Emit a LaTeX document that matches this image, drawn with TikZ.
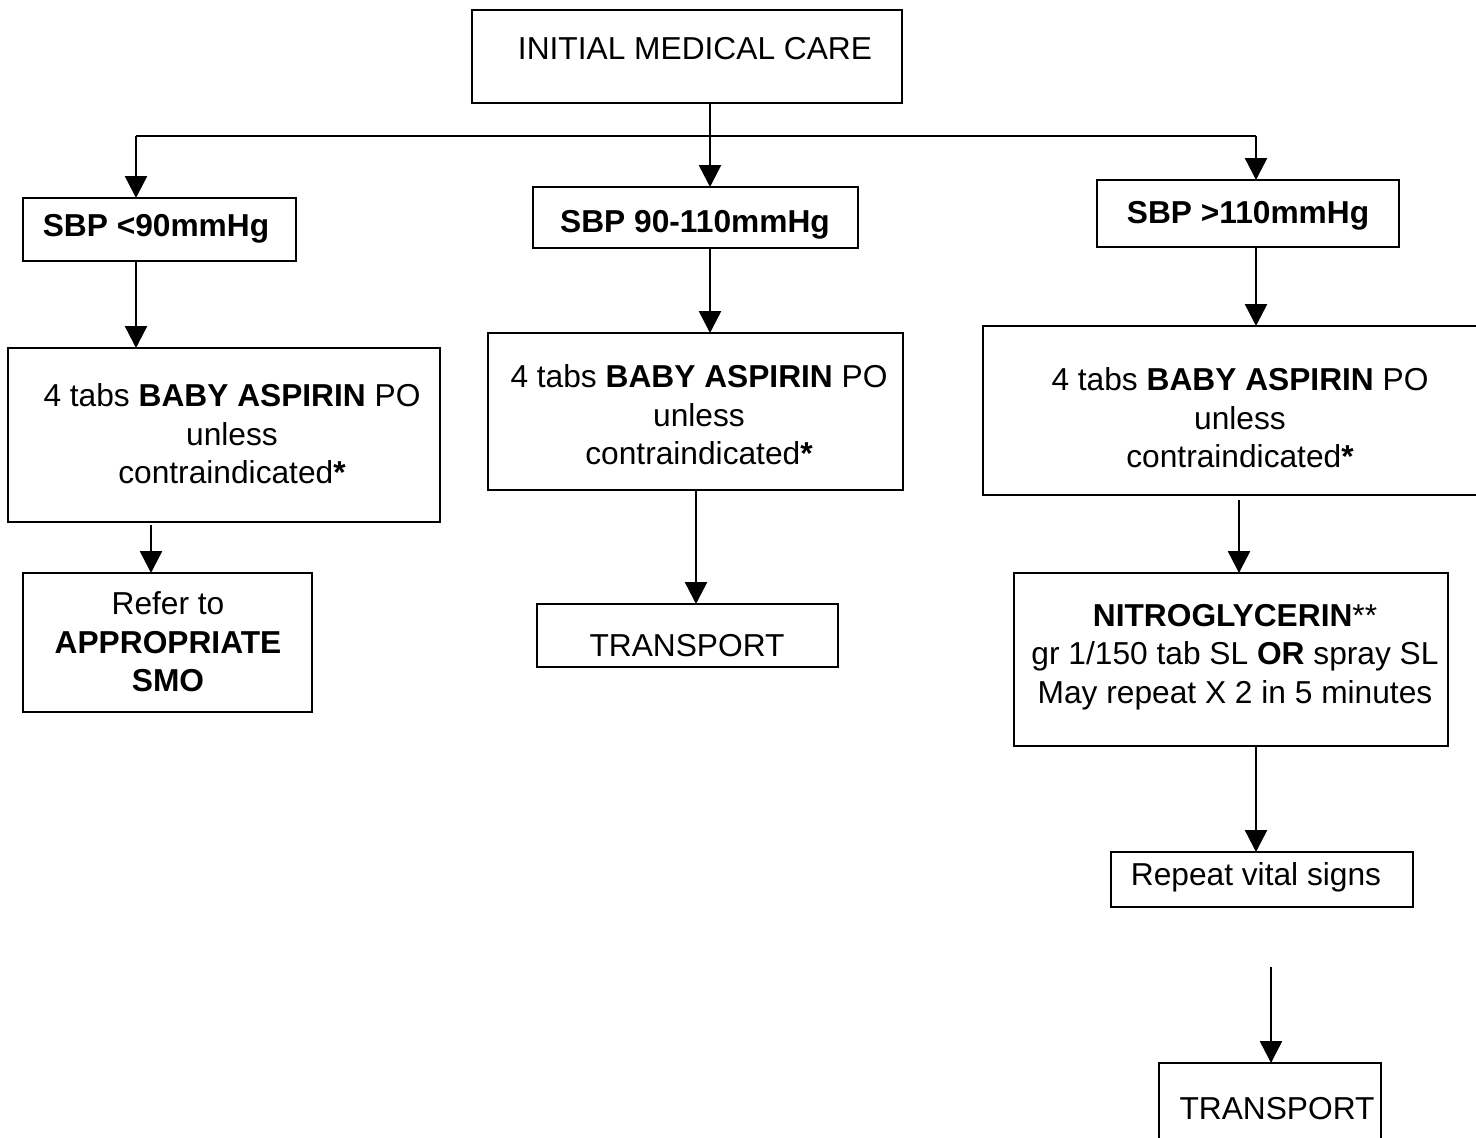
\documentclass[tikz,border=0pt]{standalone}
\usepackage{fontspec}
\setmainfont{Liberation Sans}
\usetikzlibrary{arrows.meta}
\newcommand\flowfont{\fontsize{31.7}{38.5}\selectfont}
\begin{document}
\begin{tikzpicture}[x=1pt,y=-1pt,
  stepbox/.style={draw, line width=2.5pt, rectangle, inner sep=0pt, outer sep=0pt, anchor=north west},
  label/.style={align=center, inner sep=0pt, font=\flowfont},
  link/.style={line width=2.5pt, -{Triangle[length=22pt,width=22pt]}},
  plain/.style={line width=2.5pt}]
\useasboundingbox (0,0) rectangle (1476,1138);
\clip (0,0) rectangle (1476,1138);

% boxes: top-left corner, width x height
\node[stepbox, minimum width=430pt, minimum height=93pt]  (init) at (472,10)   {};
\node[stepbox, minimum width=273pt, minimum height=63pt]  (s1)   at (23,198)   {};
\node[stepbox, minimum width=325pt, minimum height=61pt]  (s2)   at (533,187)  {};
\node[stepbox, minimum width=302pt, minimum height=67pt]  (s3)   at (1097,180) {};
\node[stepbox, minimum width=432pt, minimum height=174pt] (a1)   at (8,348)    {};
\node[stepbox, minimum width=415pt, minimum height=157pt] (a2)   at (488,333)  {};
\node[stepbox, minimum width=500pt, minimum height=169pt] (a3)   at (983,326)  {};
\node[stepbox, minimum width=289pt, minimum height=139pt] (r1)   at (23,573)   {};
\node[stepbox, minimum width=301pt, minimum height=63pt]  (t2)   at (537,604)  {};
\node[stepbox, minimum width=434pt, minimum height=173pt] (n3)   at (1014,573) {};
\node[stepbox, minimum width=302pt, minimum height=55pt]  (v3)   at (1111,852) {};
\node[stepbox, minimum width=222pt, minimum height=110pt] (t3)   at (1159,1063) {};

% texts
\node[label] (initT) at (695,49)  {INITIAL MEDICAL CARE};
\node[label] (s1T)   at (156,229) {\textbf{SBP <90mmHg}};
\node[label] (s2T)   at (695,225) {\textbf{SBP 90-110mmHg}};
\node[label] (s3T)   at (1248,216) {\textbf{SBP >110mmHg}};
\node[label] (a1T)   at (232,434) {4 tabs \textbf{BABY ASPIRIN} PO\\unless\\contraindicated\textbf{*}};
\node[label] (a2T)   at (699,415) {4 tabs \textbf{BABY ASPIRIN} PO\\unless\\contraindicated\textbf{*}};
\node[label] (a3T)   at (1240,418) {4 tabs \textbf{BABY ASPIRIN} PO\\unless\\contraindicated\textbf{*}};
\node[label] (r1T)   at (168,642) {Refer to\\\textbf{APPROPRIATE}\\\textbf{SMO}};
\node[label] (t2T)   at (687,646) {TRANSPORT};
\node[label] (n3T)   at (1235,657) {\textbf{NITROGLYCERIN}**\\gr 1/150 tab SL \textbf{OR} spray SL\\May repeat X 2 in 5 minutes};
\node[label] (v3T)   at (1256,877) {Repeat vital signs};
\node[label] (t3T)   at (1277,1109) {TRANSPORT};

% connector columns
\coordinate (xL)  at (136,0);
\coordinate (xM)  at (710,0);
\coordinate (xR)  at (1256,0);
\coordinate (xLa) at (151,0);
\coordinate (xMa) at (696,0);
\coordinate (xRa) at (1239,0);
\coordinate (xRb) at (1271,0);
\coordinate (hubL) at (136,136);
\coordinate (hubM) at (710,136);
\coordinate (hubR) at (1256,136);
\coordinate (gapEnd) at (1271,967);

% branching from the top box
\draw[plain] (init.south -| xM) -- (hubM);
\draw[plain] (hubL) -- (hubR);
\draw[link] (hubL) -- (s1.north -| hubL);
\draw[link] (hubM) -- (s2.north -| hubM);
\draw[link] (hubR) -- (s3.north -| hubR);

% left column
\draw[link] (s1.south -| xL) -- (a1.north -| xL);
\draw[link] ([yshift=-3pt]a1.south -| xLa) -- (r1.north -| xLa);

% middle column
\draw[link] (s2.south -| xM) -- (a2.north -| xM);
\draw[link] (a2.south -| xMa) -- (t2.north -| xMa);

% right column
\draw[link] (s3.south -| xR) -- (a3.north -| xR);
\draw[link] ([yshift=-5pt]a3.south -| xRa) -- (n3.north -| xRa);
\draw[link] (n3.south -| xR) -- (v3.north -| xR);
\draw[link] (gapEnd) -- (t3.north -| xRb);
\end{tikzpicture}
\end{document}
